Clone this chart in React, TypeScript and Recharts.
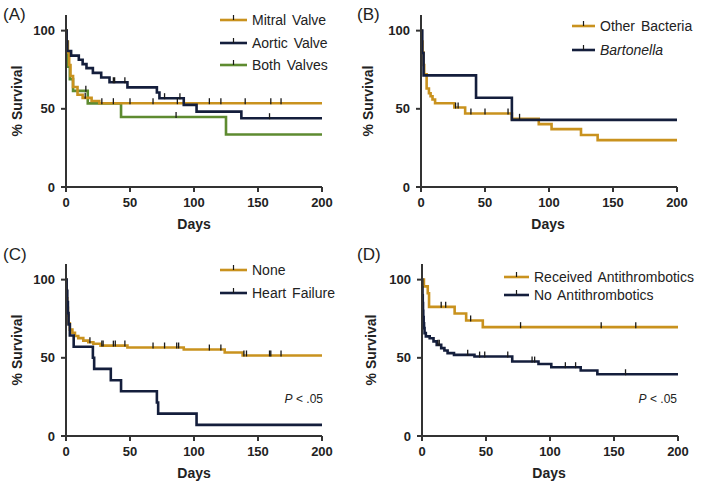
import { LineChart, Line, XAxis, YAxis } from 'recharts'

const FONT = '"Liberation Sans", Arial, Helvetica, sans-serif'
const ORANGE = '#C9921E'
const NAVY = '#141E3C'
const GREEN = '#5E8B30'
const AXIS = '#333333'

const X_TICKS = [0, 50, 100, 150, 200]
const Y_TICKS = [0, 50, 100]

// (A) valve involvement
const mitralT = [0, 0.5, 1.5, 2.5, 3.5, 5.5, 9, 13, 20, 26]
const mitralS = [100, 93, 86, 78, 71, 64, 59, 57, 55, 53.6]
const mitralC = [15, 28, 37, 50, 68, 87, 112, 121, 140, 160, 168]

const aorticT = [0, 0.5, 1, 4, 10, 13, 16, 21, 27.5, 34, 48, 71, 73, 92, 102, 137]
const aorticS = [100, 93, 87, 84, 81.4, 78.6, 76, 73, 70, 67, 63.7, 60.4, 56.8, 52.5, 48.2, 44]
const aorticC = [37, 38, 46, 77, 89, 159]

const bothT = [0, 0.5, 1, 1.5, 3, 5.5, 17, 43, 125]
const bothS = [100, 92, 85, 77, 69, 61.5, 53.5, 44.8, 33.6]
const bothC = [15.5, 86]

// (B) organism
const otherT = [0, 0.5, 1.2, 2, 2.5, 4.4, 6.2, 7.5, 9, 11, 26, 34.5, 71, 92, 102, 125, 138]
const otherS = [100, 93, 86, 78, 72, 63, 60, 58, 56, 53.6, 50.8, 47, 43.6, 40.2, 37, 33.3, 30]
const otherC = [27, 29, 39, 50, 68, 77]

const bartT = [0, 1, 2, 43, 71]
const bartS = [100, 85.7, 71.4, 57.1, 42.9]
const bartC: number[] = []

// (C) heart failure
const noneT = [0, 0.3, 0.6, 1, 1.5, 2, 3, 5, 7, 9.6, 13.5, 17.4, 21.4, 27, 48, 92, 124, 138]
const noneS = [100, 94, 88, 82, 77, 72, 68, 66, 64, 62.6, 61, 60, 59, 57.8, 56.6, 55.3, 53.4, 51.5]
const noneC = [18.7, 28, 29, 37, 38.5, 46, 68, 77, 86.5, 88, 112, 121, 139, 141, 159, 160, 168]

const hfT = [0, 0.5, 1, 1.5, 2, 3, 6, 21, 22, 35, 43, 71, 72, 102]
const hfS = [100, 92.9, 85.7, 78.6, 71.4, 64.3, 57.1, 50, 42.9, 35.7, 28.6, 21.4, 14.3, 7.1]
const hfC: number[] = []

// (D) antithrombotics
const recvT = [0, 1.5, 4.5, 5.5, 25.5, 34.5, 47.5]
const recvS = [100, 95.7, 91.3, 82.6, 78.3, 73.9, 69.6]
const recvC = [15, 18.5, 38, 77, 140, 167]

const noAntiT = [0, 0.2, 0.4, 0.6, 0.8, 1, 1.3, 1.6, 2, 3, 6, 9, 11.5, 15, 17.5, 20, 25, 41, 70.5, 91, 101, 124, 137]
const noAntiS = [100, 95, 90, 85, 80, 76, 72, 69, 65.8, 63.7, 62.5, 60.5, 58.3, 56.2, 54.7, 53, 51.9, 50.8, 47.6, 46, 44, 41.9, 39.5]
const noAntiC = [12.5, 13.5, 35.7, 45, 49, 67, 86, 88, 112, 120, 159]

interface Pt {
  d: number
  s: number
  c: boolean
}

function buildCurve(times: number[], surv: number[], censor: number[]): Pt[] {
  const pts: Pt[] = times.map((t, i) => ({ d: t, s: surv[i], c: false }))
  censor.forEach((c) => {
    let v = surv[0]
    times.forEach((t, i) => {
      if (t <= c) v = surv[i]
    })
    pts.push({ d: c, s: v, c: true })
  })
  pts.push({ d: 200, s: surv[surv.length - 1], c: false })
  return pts.sort((a, b) => a.d - b.d)
}

function CensorTick(props: any) {
  const { cx, cy, payload, index } = props
  if (!payload || !payload.c || cx == null) return <g key={index} />
  return <line key={index} x1={cx} x2={cx} y1={cy - 5} y2={cy + 1} stroke="#1a1a1a" strokeWidth={1.3} />
}

interface Series {
  name: string
  color: string
  italic?: boolean
  data: Pt[]
}

interface PanelProps {
  letter: string
  left: number
  top: number
  width: number
  height: number
  marginTop: number
  marginBottom: number
  yWidth: number
  marginRight: number
  series: Series[]
  drawOrder: number[]
  legendX: number
  legendYs: number[]
  legendLen: number
  ylabelX: number
  ylabelY: number
  daysX: number
  daysY: number
  pValue?: boolean
}

function Panel(p: PanelProps) {
  const plotBottom = p.height - p.marginBottom
  return (
    <>
      <div style={{ position: 'absolute', left: p.left, top: p.top }}>
        <LineChart
          width={p.width}
          height={p.height}
          margin={{ top: p.marginTop, right: p.marginRight, bottom: p.marginBottom - 30, left: 0 }}
        >
          <XAxis
            type="number"
            dataKey="d"
            domain={[0, 200]}
            ticks={X_TICKS}
            allowDataOverflow
            height={30}
            tickSize={5}
            tickMargin={6}
            axisLine={{ stroke: AXIS, strokeWidth: 2 }}
            tickLine={{ stroke: AXIS, strokeWidth: 2 }}
            tick={{ fontSize: 13, fontWeight: 700, fill: '#222', fontFamily: FONT }}
          />
          <YAxis
            type="number"
            domain={[0, 110]}
            ticks={Y_TICKS}
            allowDataOverflow
            width={p.yWidth}
            tickSize={5}
            tickMargin={6}
            axisLine={{ stroke: AXIS, strokeWidth: 2 }}
            tickLine={{ stroke: AXIS, strokeWidth: 2 }}
            tick={{ fontSize: 13, fontWeight: 700, fill: '#222', fontFamily: FONT }}
          />
          {p.drawOrder.map((i) => {
            const s = p.series[i]
            return (
              <Line
                key={s.name}
                data={s.data}
                dataKey="s"
                type="stepAfter"
                stroke={s.color}
                strokeWidth={2.6}
                dot={CensorTick}
                activeDot={false}
                isAnimationActive={false}
              />
            )
          })}
        </LineChart>
      </div>
      <svg
        width={p.width}
        height={p.height}
        style={{ position: 'absolute', left: p.left, top: p.top, pointerEvents: 'none', fontFamily: FONT }}
      >
        <text x={3} y={20} fontSize={17} fill="#222">
          {p.letter}
        </text>
        <text
          x={p.ylabelX}
          y={p.ylabelY}
          fontSize={14}
          fontWeight={700}
          fill="#222"
          textAnchor="middle"
          dominantBaseline="central"
          transform={`rotate(-90 ${p.ylabelX} ${p.ylabelY})`}
        >
          % Survival
        </text>
        <text x={p.daysX} y={p.daysY} fontSize={14} fontWeight={700} fill="#222" textAnchor="middle">
          Days
        </text>
        {p.series.map((s, i) => {
          const y = p.legendYs[i]
          const mid = p.legendX + p.legendLen / 2
          return (
            <g key={s.name}>
              <line x1={p.legendX} x2={p.legendX + p.legendLen} y1={y} y2={y} stroke={s.color} strokeWidth={2.6} />
              <line x1={mid} x2={mid} y1={y - 5} y2={y} stroke="#1a1a1a" strokeWidth={1.2} />
              <text
                x={p.legendX + p.legendLen + 5}
                y={y + 5}
                fontSize={14}
                fill="#222"
                fontStyle={s.italic ? 'italic' : 'normal'}
                wordSpacing={2}
              >
                {s.name}
              </text>
            </g>
          )
        })}
        {p.pValue && (
          <text x={323} y={plotBottom - 33} fontSize={12} fill="#222" textAnchor="end">
            <tspan fontStyle="italic">P</tspan> {'< .05'}
          </text>
        )}
      </svg>
    </>
  )
}

export default function App() {
  const seriesA: Series[] = [
    { name: 'Mitral Valve', color: ORANGE, data: buildCurve(mitralT, mitralS, mitralC) },
    { name: 'Aortic Valve', color: NAVY, data: buildCurve(aorticT, aorticS, aorticC) },
    { name: 'Both Valves', color: GREEN, data: buildCurve(bothT, bothS, bothC) },
  ]
  const seriesB: Series[] = [
    { name: 'Other Bacteria', color: ORANGE, data: buildCurve(otherT, otherS, otherC) },
    { name: 'Bartonella', color: NAVY, italic: true, data: buildCurve(bartT, bartS, bartC) },
  ]
  const seriesC: Series[] = [
    { name: 'None', color: ORANGE, data: buildCurve(noneT, noneS, noneC) },
    { name: 'Heart Failure', color: NAVY, data: buildCurve(hfT, hfS, hfC) },
  ]
  const seriesD: Series[] = [
    { name: 'Received Antithrombotics', color: ORANGE, data: buildCurve(recvT, recvS, recvC) },
    { name: 'No Antithrombotics', color: NAVY, data: buildCurve(noAntiT, noAntiS, noAntiC) },
  ]

  return (
    <div style={{ position: 'absolute', left: 0, top: 0, width: 709, height: 481, background: '#fff', overflow: 'hidden' }}>
      <Panel
        letter="(A)"
        left={0}
        top={0}
        width={354}
        height={240}
        marginTop={15}
        marginBottom={53}
        yWidth={66}
        marginRight={32}
        series={seriesA}
        drawOrder={[2, 0, 1]}
        legendX={220}
        legendYs={[20, 43, 65]}
        legendLen={27}
        ylabelX={17}
        ylabelY={101}
        daysX={194}
        daysY={229}
      />
      <Panel
        letter="(B)"
        left={354}
        top={0}
        width={355}
        height={240}
        marginTop={15}
        marginBottom={53}
        yWidth={67}
        marginRight={32}
        series={seriesB}
        drawOrder={[0, 1]}
        legendX={218}
        legendYs={[26, 50]}
        legendLen={23}
        ylabelX={14}
        ylabelY={101}
        daysX={194}
        daysY={229}
      />
      <Panel
        letter="(C)"
        left={0}
        top={240}
        width={354}
        height={241}
        marginTop={24}
        marginBottom={45}
        yWidth={66}
        marginRight={32}
        series={seriesC}
        drawOrder={[0, 1]}
        legendX={220}
        legendYs={[30, 53]}
        legendLen={27}
        ylabelX={17}
        ylabelY={110}
        daysX={194}
        daysY={238}
        pValue
      />
      <Panel
        letter="(D)"
        left={354}
        top={240}
        width={355}
        height={241}
        marginTop={24}
        marginBottom={45}
        yWidth={68}
        marginRight={31}
        series={seriesD}
        drawOrder={[0, 1]}
        legendX={150}
        legendYs={[37, 55]}
        legendLen={25}
        ylabelX={17}
        ylabelY={110}
        daysX={195}
        daysY={238}
        pValue
      />
    </div>
  )
}
